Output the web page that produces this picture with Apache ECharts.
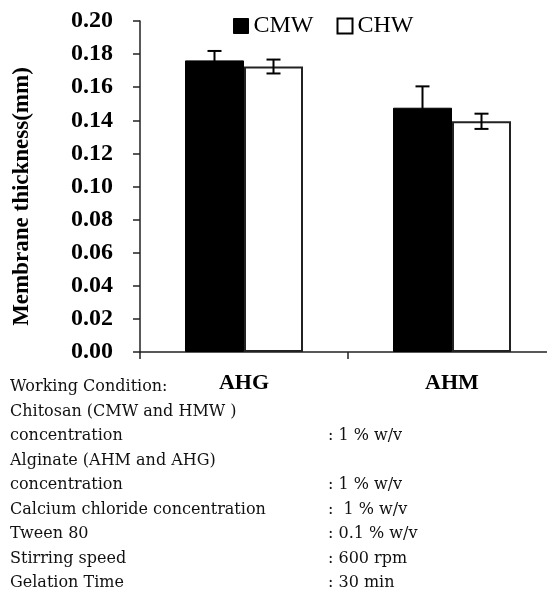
<!DOCTYPE html>
<html>
<head>
<meta charset="utf-8">
<script src="https://cdn.jsdelivr.net/npm/echarts@6/dist/echarts.min.js"></script>
<style>
html,body{margin:0;padding:0;background:#fff;}
#chart{width:547px;height:592px;}
</style>
</head>
<body>
<div id="chart"></div>
<script>
const categories = ['AHG', 'AHM'];
const seriesNames = ['CMW', 'CHW'];
const cmwValues = [0.1762, 0.1476];
const cmwErrors = [0.0057, 0.0129];
const chwValues = [0.1725, 0.1394];
const chwErrors = [0.0042, 0.0046];
const yTicks = [0, 0.02, 0.04, 0.06, 0.08, 0.10, 0.12, 0.14, 0.16, 0.18, 0.20];
const conditionLabels = ['Working Condition:', 'Chitosan (CMW and HMW )', 'concentration', 'Alginate (AHM and AHG)', 'concentration', 'Calcium chloride concentration', 'Tween 80', 'Stirring speed', 'Gelation Time'];
const conditionValues = ['', '', ': 1 % w/v', '', ': 1 % w/v', ':  1 % w/v', ': 0.1 % w/v', ': 600 rpm', ': 30 min'];

const BAR_W = 59;
const SERIF = "'Liberation Serif', 'Times New Roman', serif";
const BODY = "'DejaVu Serif', serif";

function errRender(offsetSign) {
  return function (params, api) {
    const c = api.value(0), v = api.value(1), e = api.value(2);
    const top = api.coord([c, v + e]);
    const bot = api.coord([c, v - e]);
    const x = top[0] + offsetSign * BAR_W / 2;
    const cap = 7;
    const style = { stroke: '#000', lineWidth: 2 };
    return {
      type: 'group',
      children: [
        { type: 'line', shape: { x1: x, y1: top[1], x2: x, y2: bot[1] }, style },
        { type: 'line', shape: { x1: x - cap, y1: top[1], x2: x + cap, y2: top[1] }, style },
        { type: 'line', shape: { x1: x - cap, y1: bot[1], x2: x + cap, y2: bot[1] }, style }
      ]
    };
  };
}

const graphics = [];
conditionLabels.forEach((t, i) => {
  graphics.push({ type: 'text', left: 10, top: 379 + i * 24.5,
    style: { text: t, font: "16px " + BODY, fill: '#111' } });
  if (conditionValues[i]) {
    graphics.push({ type: 'text', left: 328, top: 379 + i * 24.5,
      style: { text: conditionValues[i], font: "16px " + BODY, fill: '#111' } });
  }
});

const chart = echarts.init(document.getElementById('chart'), null, { renderer: 'canvas' });
chart.setOption({
  animation: false,
  backgroundColor: '#fff',
  grid: { left: 140, top: 21, bottom: 240, width: 416, outerBoundsMode: 'none', containLabel: false },
  legend: {
    left: 228, top: 9,
    itemWidth: 15, itemHeight: 15, itemGap: 23,
    textStyle: { fontFamily: SERIF, fontSize: 24, color: '#000' },
    data: [
      { name: 'CMW', icon: 'rect', itemStyle: { color: '#000', borderColor: '#000', borderWidth: 1 } },
      { name: 'CHW', icon: 'rect', itemStyle: { color: '#fff', borderColor: '#000', borderWidth: 2 } }
    ]
  },
  xAxis: {
    type: 'category',
    data: categories,
    axisLine: { lineStyle: { color: '#222', width: 1.5 } },
    axisTick: { show: true, length: 7, lineStyle: { color: '#222', width: 1.5 } },
    axisLabel: { margin: 20, fontFamily: SERIF, fontWeight: 'bold', fontSize: 22, color: '#000' },
    splitLine: { show: false }
  },
  yAxis: {
    type: 'value',
    min: yTicks[0], max: yTicks[yTicks.length - 1], interval: 0.02,
    name: 'Membrane thickness(mm)',
    nameLocation: 'middle',
    nameGap: 106,
    nameRotate: 90,
    nameTextStyle: { fontFamily: SERIF, fontWeight: 'bold', fontSize: 23, color: '#000', padding: [0, 20, 0, 0] },
    axisLine: { show: true, lineStyle: { color: '#222', width: 1.5 } },
    axisTick: { show: true, length: 7, lineStyle: { color: '#222', width: 1.5 } },
    axisLabel: { margin: 27, fontFamily: SERIF, fontWeight: 'bold', fontSize: 24, color: '#000',
      formatter: v => v.toFixed(2) },
    splitLine: { show: false }
  },
  series: [
    { name: seriesNames[0], type: 'bar', data: cmwValues, barWidth: BAR_W, barGap: '0%',
      itemStyle: { color: '#000', borderColor: '#000', borderWidth: 1 } },
    { name: seriesNames[1], type: 'bar', data: chwValues, barWidth: BAR_W, barGap: '0%',
      itemStyle: { color: '#fff', borderColor: '#222', borderWidth: 2 } },
    { name: 'CMW err', type: 'custom', renderItem: errRender(-1), z: 5,
      data: categories.map((c, i) => [i, cmwValues[i], cmwErrors[i]]) },
    { name: 'CHW err', type: 'custom', renderItem: errRender(1), z: 5,
      data: categories.map((c, i) => [i, chwValues[i], chwErrors[i]]) }
  ],
  graphic: graphics
});
</script>
</body>
</html>
